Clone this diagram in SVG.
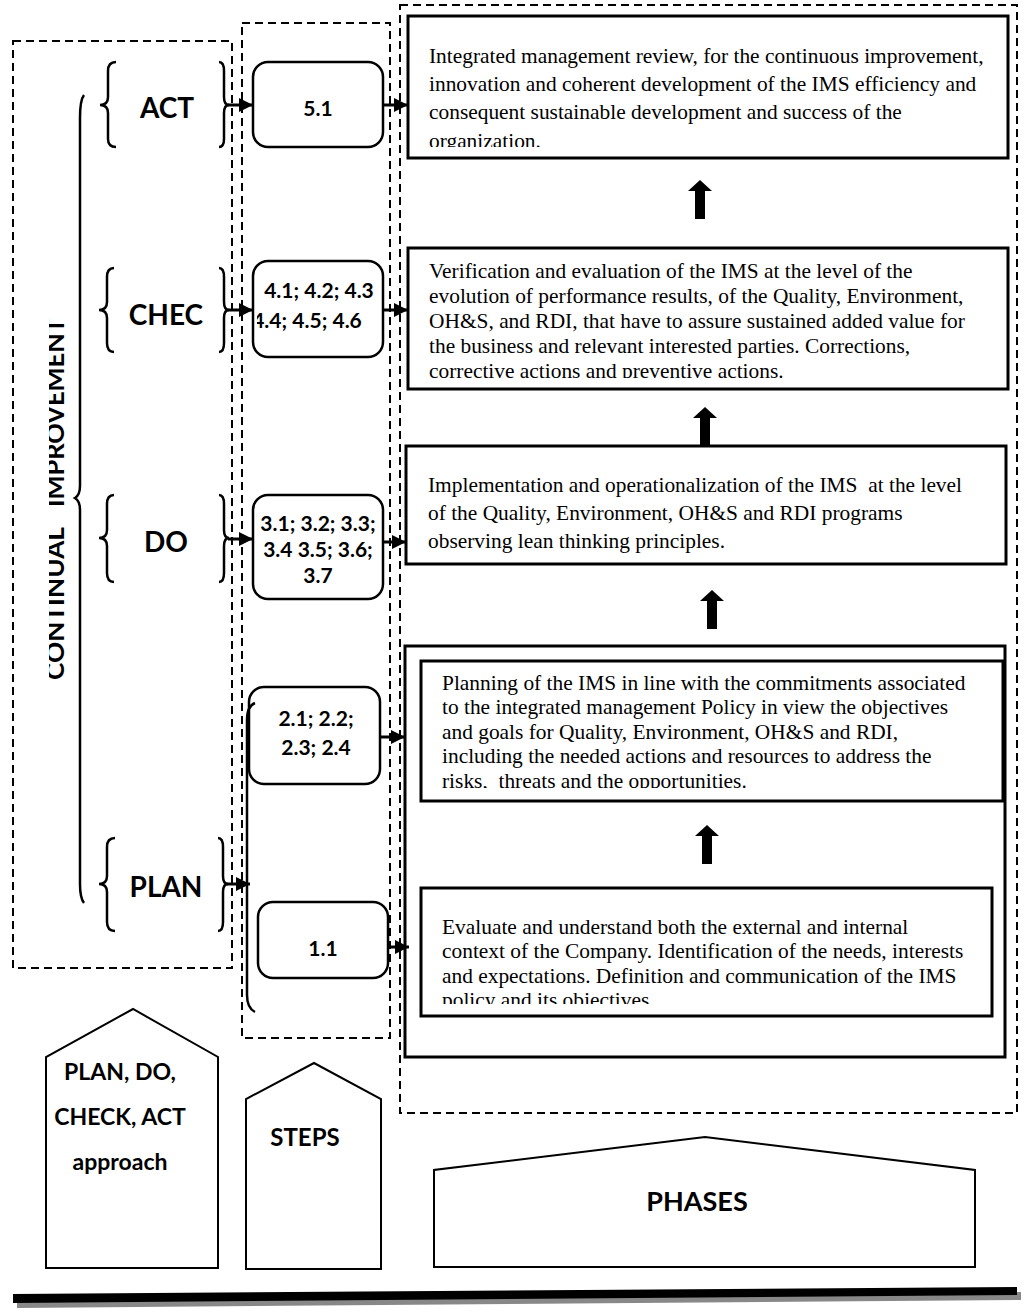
<svg xmlns="http://www.w3.org/2000/svg" width="1024" height="1311" viewBox="0 0 1024 1311">
<style>
.dash{fill:none;stroke:#000;stroke-width:2;stroke-dasharray:8 5}
.box{fill:#fff;stroke:#000;stroke-width:3}
.rbox{fill:#fff;stroke:#000;stroke-width:2.5}
.br{fill:none;stroke:#000;stroke-width:2.5}
.ln{fill:none;stroke:#000;stroke-width:3}
.lab{font-family:Lato,"Liberation Sans",sans-serif;font-weight:bold;fill:#000}
.step{font-family:Lato,"Liberation Sans",sans-serif;font-weight:bold;font-size:21px;fill:#000;text-anchor:middle}
.tx{font-family:"Liberation Serif","Times New Roman",serif;font-size:21.4px;fill:#000}
.pent{fill:#fff;stroke:#000;stroke-width:2}
</style>
<defs>
<marker id="ah" viewBox="0 0 14 14" refX="14" refY="7" markerWidth="14" markerHeight="14" markerUnits="userSpaceOnUse" orient="auto"><path d="M0,0 L14,7 L0,14 z" fill="#000"/></marker>
<path id="up" d="M-12,11 L0,0 L12,11 L5,11 L5,39 L-5,39 L-5,11 z" fill="#000"/>
<clipPath id="cVert"><rect x="49" y="300" width="40" height="400"/></clipPath>
<clipPath id="c4"><rect x="257" y="262" width="125" height="94"/></clipPath>
<clipPath id="cAct"><rect x="410" y="18" width="596" height="129"/></clipPath>
<clipPath id="cChk"><rect x="410" y="250" width="596" height="128"/></clipPath>
<clipPath id="cPln"><rect x="423" y="663" width="578" height="125"/></clipPath>
<clipPath id="cEvl"><rect x="423" y="890" width="567" height="114"/></clipPath>
</defs>

<!-- dashed frames -->
<g id="frames">
<rect class="dash" x="13" y="41" width="219" height="927"/>
<rect class="dash" x="242" y="23" width="148" height="1015"/>
<rect class="dash" x="400" y="5" width="617" height="1108"/>
</g>

<!-- continual improvement -->
<g id="continual">
<path class="br" d="M84,95 Q80,100 80,118 L80,486 Q80,495 75,498 Q80,501 80,510 L80,884 Q80,898 84,903"/>
<g clip-path="url(#cVert)">
<text class="lab" font-size="24" transform="translate(64,680) rotate(-90)"><tspan x="0" y="0" textLength="153" lengthAdjust="spacingAndGlyphs">CONTINUAL</tspan><tspan x="173" y="0" textLength="189" lengthAdjust="spacingAndGlyphs">IMPROVEMENT</tspan></text>
</g>
</g>

<!-- PDCA labels -->
<g id="act">
<path class="br" d="M116,62 Q108,62 108,71 L108,97 Q108,105 100,105 Q108,105 108,113 L108,139 Q108,147 116,147"/>
<path class="br" d="M219,62 Q224,62 224,71 L224,97 Q224,105 229,105 Q224,105 224,113 L224,139 Q224,147 219,147"/>
<text class="lab" font-size="28" x="167" y="118" text-anchor="middle">ACT</text>
</g>
<g id="chec">
<path class="br" d="M114,268 Q107,268 107,277 L107,302 Q107,310 99,310 Q107,310 107,318 L107,343 Q107,352 114,352"/>
<path class="br" d="M219,268 Q224,268 224,277 L224,302 Q224,310 229,310 Q224,310 224,318 L224,343 Q224,352 219,352"/>
<text class="lab" font-size="28" x="166" y="325" text-anchor="middle">CHEC</text>
</g>
<g id="do">
<path class="br" d="M114,495 Q107,495 107,504 L107,530 Q107,538 99,538 Q107,538 107,546 L107,573 Q107,582 114,582"/>
<path class="br" d="M219,495 Q224,495 224,504 L224,530 Q224,538 229,538 Q224,538 224,546 L224,573 Q224,582 219,582"/>
<text class="lab" font-size="28" x="166" y="552" text-anchor="middle">DO</text>
</g>
<g id="plan">
<path class="br" d="M115,838 Q107,838 107,847 L107,876 Q107,884 99,884 Q107,884 107,892 L107,922 Q107,931 115,931"/>
<path class="br" d="M218,838 Q223,838 223,847 L223,876 Q223,884 228,884 Q223,884 223,892 L223,922 Q223,931 218,931"/>
<text class="lab" font-size="28" x="166" y="897" text-anchor="middle">PLAN</text>
</g>

<!-- steps -->
<g id="s51">
<rect class="rbox" x="253" y="62" width="130" height="85" rx="15"/>
<text class="step" x="318" y="116">5.1</text>
</g>
<g id="s4">
<rect class="rbox" x="253" y="261" width="130" height="96" rx="15"/>
<text class="step" x="319" y="298" font-size="22.5">4.1; 4.2; 4.3</text>
<g clip-path="url(#c4)"><text class="step" x="307" y="328" font-size="22.5">4.4; 4.5; 4.6</text></g>
</g>
<g id="s3">
<rect class="rbox" x="253" y="495" width="130" height="104" rx="15"/>
<text class="step" x="318" y="531">3.1; 3.2; 3.3;</text>
<text class="step" x="318" y="557">3.4 3.5; 3.6;</text>
<text class="step" x="318" y="583">3.7</text>
</g>
<g id="s2">
<rect class="rbox" x="249" y="687" width="131" height="97" rx="15"/>
<text class="step" x="316" y="726">2.1; 2.2;</text>
<text class="step" x="316" y="755">2.3; 2.4</text>
</g>
<g id="s1">
<rect class="rbox" x="258" y="902" width="130" height="76" rx="15"/>
<text class="step" x="323" y="956">1.1</text>
</g>
<path id="planBracket" class="br" d="M255,703 Q247,706 247,720 L247,995 Q247,1008 255,1012"/>

<!-- phases -->
<g id="pAct">
<rect class="box" x="408" y="16" width="600" height="142"/>
<g clip-path="url(#cAct)">
<text class="tx" x="429" y="63">Integrated management review, for the continuous improvement,</text>
<text class="tx" x="429" y="91">innovation and coherent development of the IMS efficiency and</text>
<text class="tx" x="429" y="119">consequent sustainable development and success of the</text>
<text class="tx" x="429" y="148">organization.</text>
</g>
</g>
<g id="pCheck">
<rect class="box" x="408" y="248" width="600" height="141"/>
<g clip-path="url(#cChk)">
<text class="tx" x="429" y="278">Verification and evaluation of the IMS at the level of the</text>
<text class="tx" x="429" y="303">evolution of performance results, of the Quality, Environment,</text>
<text class="tx" x="429" y="328">OH&amp;S, and RDI, that have to assure sustained added value for</text>
<text class="tx" x="429" y="353">the business and relevant interested parties. Corrections,</text>
<text class="tx" x="429" y="378">corrective actions and preventive actions.</text>
</g>
</g>
<g id="pDo">
<rect class="box" x="406" y="446" width="600" height="118"/>
<text class="tx" x="428" y="492" xml:space="preserve">Implementation and operationalization of the IMS  at the level</text>
<text class="tx" x="428" y="520">of the Quality, Environment, OH&amp;S and RDI programs</text>
<text class="tx" x="428" y="548">observing lean thinking principles.</text>
</g>
<g id="pPlanOuter">
<rect class="box" x="405" y="646" width="600" height="411"/>
</g>
<g id="pPlan">
<rect class="box" x="421" y="661" width="582" height="140"/>
<g clip-path="url(#cPln)">
<text class="tx" x="442" y="690">Planning of the IMS in line with the commitments associated</text>
<text class="tx" x="442" y="714">to the integrated management Policy in view the objectives</text>
<text class="tx" x="442" y="739">and goals for Quality, Environment, OH&amp;S and RDI,</text>
<text class="tx" x="442" y="763">including the needed actions and resources to address the</text>
<text class="tx" x="442" y="788" xml:space="preserve">risks,  threats and the opportunities.</text>
</g>
</g>
<g id="pEval">
<rect class="box" x="421" y="888" width="571" height="128"/>
<g clip-path="url(#cEvl)">
<text class="tx" x="442" y="934">Evaluate and understand both the external and internal</text>
<text class="tx" x="442" y="958">context of the Company. Identification of the needs, interests</text>
<text class="tx" x="442" y="983">and expectations. Definition and communication of the IMS</text>
<text class="tx" x="442" y="1007">policy and its objectives</text>
</g>
</g>

<!-- connectors -->
<g id="connectors">
<line class="ln" x1="228" y1="105" x2="253" y2="105" marker-end="url(#ah)"/>
<line class="ln" x1="228" y1="310" x2="253" y2="310" marker-end="url(#ah)"/>
<line class="ln" x1="228" y1="539" x2="253" y2="539" marker-end="url(#ah)"/>
<line class="ln" x1="227" y1="884" x2="250" y2="884" marker-end="url(#ah)"/>
<line class="ln" x1="383" y1="105" x2="408" y2="105" marker-end="url(#ah)"/>
<line class="ln" x1="383" y1="310" x2="408" y2="310" marker-end="url(#ah)"/>
<line class="ln" x1="383" y1="542" x2="406" y2="542" marker-end="url(#ah)"/>
<line class="ln" x1="380" y1="737" x2="405" y2="737" marker-end="url(#ah)"/>
<line class="ln" x1="388" y1="947" x2="409" y2="947" marker-end="url(#ah)"/>
<use href="#up" x="700" y="180"/>
<use href="#up" x="705" y="407"/>
<use href="#up" x="712" y="590"/>
<use href="#up" x="707" y="825"/>
</g>

<!-- bottom labels -->
<g id="lPdca">
<polygon class="pent" points="46,1268 46,1057 133,1009 218,1057 218,1268"/>
<text class="lab" font-size="23" x="120" y="1080" text-anchor="middle">PLAN, DO,</text>
<text class="lab" font-size="23" x="120" y="1125" text-anchor="middle">CHECK, ACT</text>
<text class="lab" font-size="23" x="120" y="1170" text-anchor="middle">approach</text>
</g>
<g id="lSteps">
<polygon class="pent" points="246,1269 246,1099 314,1063 381,1099 381,1269"/>
<text class="lab" font-size="24" x="305" y="1146" text-anchor="middle">STEPS</text>
</g>
<g id="lPhases">
<polygon class="pent" points="434,1267 434,1170 705,1137 975,1170 975,1267"/>
<text class="lab" font-size="27" x="697" y="1211" text-anchor="middle">PHASES</text>
</g>
<g id="baseline">
<polygon points="17,1299 1021,1292 1021,1300 17,1308" fill="#888"/>
<polygon points="13,1294 1017,1287 1017,1295 13,1303" fill="#000"/>
</g>
</svg>
